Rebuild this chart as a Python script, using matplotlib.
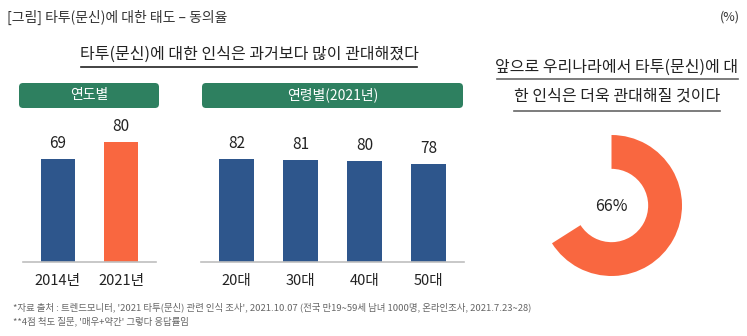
import numpy as np
import matplotlib
matplotlib.use('Agg')
import matplotlib.pyplot as plt
from matplotlib.patches import FancyBboxPatch

plt.rcParams['font.family'] = ['Noto Sans CJK KR', 'DejaVu Sans']

# 데이터
year_labels = ['2014년', '2021년']
year_values = [69, 80]
age_labels = ['20대', '30대', '40대', '50대']
age_values = [82, 81, 80, 78]
future_agree = 66

BLUE = '#2E568C'
ORANGE = '#F96740'
GREEN = '#2E8060'
W, H = 747, 336


# 픽셀 좌표 -> figure 비율
def rect(x0, y0, x1, y1):
    return [x0 / W, 1 - y1 / H, (x1 - x0) / W, (y1 - y0) / H]


def bar_panel(ax, labels, values, colors, ytop):
    x = np.arange(len(values))
    ax.bar(x, values, width=0.54, color=colors)
    for xi, v in zip(x, values):
        ax.text(xi, v + ytop * 0.045, str(v), ha='center', va='bottom',
                fontsize=11, color='#222222')
    ax.set_xlim(-0.55, len(values) - 0.45)
    ax.set_ylim(0, ytop)
    ax.set_xticks(x)
    ax.set_xticklabels(labels, fontsize=10.5, color='#222222')
    ax.tick_params(axis='x', length=0, pad=9)
    ax.set_yticks([])
    ax.patch.set_visible(False)
    for s in ['top', 'right', 'left']:
        ax.spines[s].set_visible(False)
    ax.spines['bottom'].set_color('#BFBFBF')
    ax.spines['bottom'].set_linewidth(1.2)


def main():
    fig = plt.figure(figsize=(W / 100, H / 100), dpi=100)

    # 텍스트/장식용 전체 축 (픽셀 좌표)
    bg = fig.add_axes([0, 0, 1, 1])
    bg.set_xlim(0, W)
    bg.set_ylim(H, 0)
    bg.axis('off')

    bg.text(7, 17, '[그림] 타투(문신)에 대한 태도 – 동의율', fontsize=10,
            va='center', ha='left', color='#333333')
    bg.text(740, 17, '(%)', fontsize=9, va='center', ha='right', color='#333333')

    bg.text(249, 54, '타투(문신)에 대한 인식은 과거보다 많이 관대해졌다', fontsize=11.5,
            va='center', ha='center', color='#222222')
    bg.plot([81, 417], [67, 67], color='#222222', lw=1.2)

    bg.text(617, 67, '앞으로 우리나라에서 타투(문신)에 대', fontsize=11.5,
            va='center', ha='center', color='#222222')
    bg.plot([497, 738], [79, 79], color='#666666', lw=1.2)
    bg.text(617, 96, '한 인식은 더욱 관대해질 것이다', fontsize=11.5,
            va='center', ha='center', color='#222222')
    bg.plot([514, 720], [111, 111], color='#666666', lw=1.2)

    # 초록 헤더 박스
    for (x0, x1), label in [((19, 159), '연도별'), ((202, 463), '연령별(2021년)')]:
        box = FancyBboxPatch((x0, 83), x1 - x0, 25,
                             boxstyle='round,pad=0,rounding_size=4',
                             facecolor=GREEN, edgecolor='none')
        bg.add_patch(box)
        bg.text((x0 + x1) / 2, 95, label, fontsize=10, color='white',
                ha='center', va='center')

    bg.text(13, 307, "*자료 출처 : 트렌드모니터, '2021 타투(문신) 관련 인식 조사', 2021.10.07 "
            "(전국 만19~59세 남녀 1000명, 온라인조사, 2021.7.23~28)",
            fontsize=6.8, color='#666666', va='center', ha='left')
    bg.text(13, 321, "**4점 척도 질문, '매우+약간' 그렇다 응답률임",
            fontsize=6.8, color='#666666', va='center', ha='left')

    # 연도별 막대
    ax1 = fig.add_axes(rect(23, 112, 156, 262))
    bar_panel(ax1, year_labels, year_values, [BLUE, ORANGE], 100)

    # 연령별 막대
    ax2 = fig.add_axes(rect(201, 112, 464, 262))
    bar_panel(ax2, age_labels, age_values, [BLUE] * 4, 119)

    # 도넛
    ax3 = fig.add_axes(rect(541, 135, 682, 276))
    ax3.pie([future_agree, 100 - future_agree], colors=[ORANGE, 'none'],
            startangle=90, counterclock=False, radius=1,
            wedgeprops=dict(width=0.48, edgecolor='none'))
    ax3.set_xlim(-1, 1)
    ax3.set_ylim(-1, 1)
    ax3.set_aspect('equal')
    ax3.text(0, -0.02, f'{future_agree}%', ha='center', va='center',
             fontsize=11.5, color='#222222')

    fig.savefig('out.png', dpi=100)


if __name__ == '__main__':
    main()
